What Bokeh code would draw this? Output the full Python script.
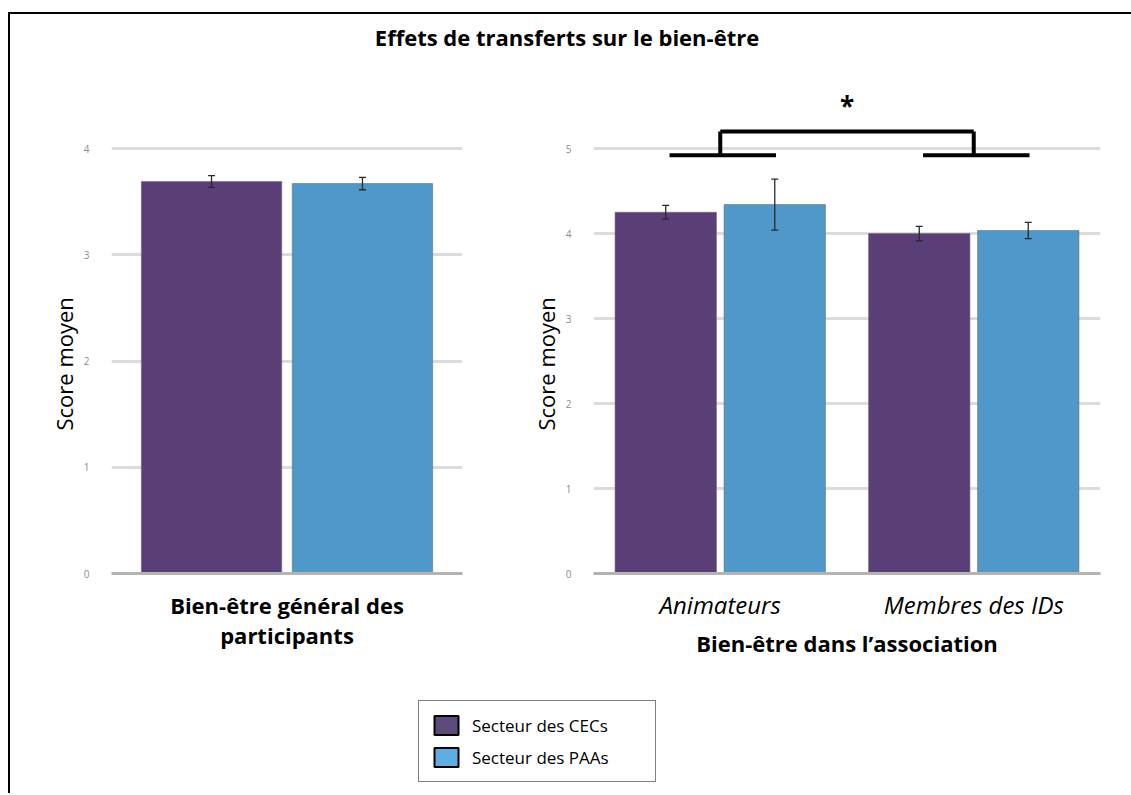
from bokeh.plotting import figure
from bokeh.layouts import column, row
from bokeh.models import (ColumnDataSource, FactorRange, Range1d, FixedTicker,
                          Whisker, TeeHead, Legend, LegendItem, Title)
from bokeh.transform import dodge
from bokeh.core.properties import value
from bokeh.embed import file_html
from bokeh.resources import INLINE

# ---------------- data ----------------
title_text = "Effets de transferts sur le bien-être"
series_names = ["Secteur des CECs", "Secteur des PAAs"]
y_label = "Score moyen"

left_categories = ["Bien-être général des\nparticipants"]
left_cec = [3.69]
left_cec_err = [0.055]
left_paa = [3.67]
left_paa_err = [0.058]
left_ticks = [0, 1, 2, 3, 4]

right_categories = ["Animateurs", "Membres des IDs"]
right_cec = [4.25, 4.00]
right_cec_err = [0.08, 0.085]
right_paa = [4.34, 4.035]
right_paa_err = [0.30, 0.095]
right_ticks = [0, 1, 2, 3, 4, 5]
right_x_label = "Bien-être dans l’association"

sig_low = [4.92]
sig_high = [5.2]
sig_star_y = [5.5]
sig_label = ["*"]

# ---------------- styles ----------------
FONT = "Open Sans"
PURPLE = "#5a3e78"
BLUE = "#4f98c9"
LEG_PURPLE = "#5c4a7a"
LEG_BLUE = "#5dade2"
OFF = 0.215
BAR_W = 0.40
PANEL_H = 590


def panel(cats, cec, cec_err, paa, paa_err, ticks, y_end, width, bl, br):
    p = figure(x_range=FactorRange(factors=cats, range_padding=0),
               y_range=Range1d(0, y_end), width=width, height=PANEL_H,
               output_backend="svg", toolbar_location=None, title=None,
               min_border_left=bl, min_border_right=br,
               min_border_top=0, min_border_bottom=92)
    src = ColumnDataSource(dict(
        cat=cats, cec=cec, paa=paa,
        cec_lo=[v - e for v, e in zip(cec, cec_err)],
        cec_hi=[v + e for v, e in zip(cec, cec_err)],
        paa_lo=[v - e for v, e in zip(paa, paa_err)],
        paa_hi=[v + e for v, e in zip(paa, paa_err)],
    ))
    for key, off, col in (("cec", -OFF, PURPLE), ("paa", OFF, BLUE)):
        p.vbar(x=dodge("cat", off, range=p.x_range), top=key, width=BAR_W,
               source=src, fill_color=col, line_color="#707070",
               line_alpha=0.6, line_width=1)
        w = Whisker(base=dodge("cat", off, range=p.x_range),
                    upper=key + "_hi", lower=key + "_lo", source=src,
                    line_color="#2a2a2a", line_width=1.3, level="overlay",
                    upper_head=TeeHead(size=7, line_color="#2a2a2a", line_width=1.3),
                    lower_head=TeeHead(size=7, line_color="#2a2a2a", line_width=1.3))
        p.add_layout(w)
    p.outline_line_color = None
    p.xgrid.visible = False
    p.ygrid.ticker = FixedTicker(ticks=ticks)
    p.ygrid.grid_line_color = "#dcdcdc"
    p.ygrid.grid_line_width = 3
    p.yaxis.ticker = FixedTicker(ticks=ticks)
    p.yaxis.axis_line_color = None
    p.yaxis.major_tick_line_color = None
    p.yaxis.minor_tick_line_color = None
    p.yaxis.major_label_text_font = FONT
    p.yaxis.major_label_text_font_size = "10px"
    p.yaxis.major_label_text_color = "#8c8c8c"
    p.yaxis.major_label_standoff = 16
    # y axis title, placed along the 0..max part of the axis
    p.add_layout(Title(text=y_label, align="left", offset=143, standoff=3,
                       text_font=FONT, text_font_size="22px",
                       text_font_style="normal", text_color="black"), "left")
    p.xaxis.axis_line_color = "#b4b4b4"
    p.xaxis.axis_line_width = 3
    p.xaxis.major_tick_line_color = None
    p.xaxis.minor_tick_line_color = None
    p.xaxis.major_label_text_font = FONT
    p.xaxis.major_label_text_color = "black"
    p.xaxis.major_label_orientation = "horizontal"
    return p


# left panel: 0..4 over 425 px with headroom above
left_end = 4 + 73 / 106.25
pl_ = panel(left_categories, left_cec, left_cec_err, left_paa, left_paa_err,
            left_ticks, left_end, 510, 101, 58)
pl_.xaxis.major_label_text_font_size = "22px"
pl_.xaxis.major_label_text_font_style = "bold"
pl_.xaxis.major_label_text_line_height = 1.0
pl_.xaxis.major_label_standoff = 10

# right panel: 0..5 over 425 px with headroom for the bracket
right_end = 5 + 73 / 85
pr = panel(right_categories, right_cec, right_cec_err, right_paa, right_paa_err,
           right_ticks, right_end, 603, 73, 23)
pr.xaxis.major_label_text_font_size = "24px"
pr.xaxis.major_label_text_font_style = "italic"
pr.xaxis.major_label_standoff = 8
pr.xaxis.axis_label = right_x_label
pr.xaxis.axis_label_text_font = FONT
pr.xaxis.axis_label_text_font_size = "22px"
pr.xaxis.axis_label_text_font_style = "bold"
pr.xaxis.axis_label_text_color = "black"
pr.xaxis.axis_label_standoff = 4

# significance bracket between the two groups
cat_a, cat_b = right_categories
br_src = ColumnDataSource(dict(a=[cat_a], b=[cat_b], lo=sig_low, hi=sig_high,
                               sy=sig_star_y, s=sig_label))
for cat in ("a", "b"):
    pr.segment(x0=dodge(cat, -0.2, range=pr.x_range), x1=dodge(cat, 0.22, range=pr.x_range),
               y0="lo", y1="lo", source=br_src, line_color="black", line_width=4)
    pr.segment(x0=dodge(cat, 0, range=pr.x_range), x1=dodge(cat, 0, range=pr.x_range),
               y0="lo", y1="hi", source=br_src, line_color="black", line_width=4)
pr.segment(x0=dodge("a", 0, range=pr.x_range), x1=dodge("b", 0, range=pr.x_range),
           y0="hi", y1="hi", source=br_src, line_color="black", line_width=4)
pr.text(x=dodge("a", 0.5, range=pr.x_range), y="sy", text="s", source=br_src,
        text_font=value(FONT), text_font_size="26px", text_font_style="bold",
        text_align="center", text_baseline="middle", text_color="black")

# title strip
pt = figure(width=1121, height=61, output_backend="svg", toolbar_location=None,
            x_range=(0, 1), y_range=(0, 1), min_border=0, min_border_top=36,
            min_border_right=8)
pt.title.text = title_text
pt.title.align = "center"
pt.title.text_font = FONT
pt.title.text_font_size = "22px"
pt.title.text_font_style = "bold"
pt.title.text_color = "black"
pt.axis.visible = False
pt.grid.visible = False
pt.outline_line_color = None

# legend strip
pg = figure(width=1113, height=128, output_backend="svg", toolbar_location=None,
            x_range=(0, 1), y_range=(0, 1), min_border=0, title=None)
pg.axis.visible = False
pg.grid.visible = False
pg.outline_line_color = None
# swatch-only renderers: no drawable point, used by the legend
nan = float("nan")
r1 = pg.vbar(x=[nan], top=[nan], width=1, fill_color=LEG_PURPLE, line_color="black", line_width=2)
r2 = pg.vbar(x=[nan], top=[nan], width=1, fill_color=LEG_BLUE, line_color="black", line_width=2)
leg = Legend(items=[LegendItem(label=series_names[0], renderers=[r1]),
                    LegendItem(label=series_names[1], renderers=[r2])],
             location=(408, 11), orientation="vertical",
             border_line_color="black", border_line_width=1.5,
             padding=12, spacing=8, glyph_width=30, glyph_height=24,
             label_standoff=11, label_width=171,
             label_text_font=FONT, label_text_font_size="17px",
             label_text_color="black", background_fill_alpha=1)
pg.add_layout(leg, "center")

layout = column(pt, row(pl_, pr), pg,
                styles={"border-top": "2px solid black",
                        "border-left": "2px solid black",
                        "margin-top": "12px",
                        "margin-left": "8px"})

open("out.html", "w").write(file_html(layout, INLINE))
